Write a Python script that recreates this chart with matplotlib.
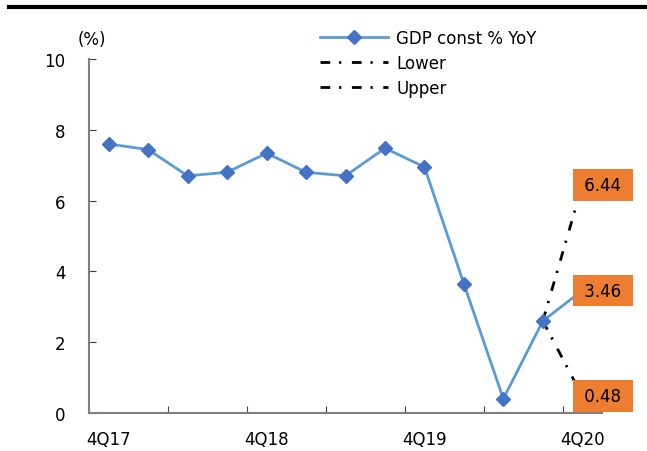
import matplotlib
matplotlib.use("Agg")
import matplotlib.pyplot as plt
from matplotlib.lines import Line2D

plt.rcParams['font.family'] = ['DejaVu Sans']

# Quarterly real GDP growth, 4Q17 .. 4Q20 (last quarter is the forecast midpoint)
quarters = ["4Q17", "1Q18", "2Q18", "3Q18", "4Q18", "1Q19", "2Q19", "3Q19",
            "4Q19", "1Q20", "2Q20", "3Q20", "4Q20"]
gdp_yoy = [7.60, 7.44, 6.70, 6.80, 7.34, 6.80, 6.70, 7.48, 6.95, 3.65, 0.40, 2.60, 3.46]
lower_band = [2.60, 0.48]
upper_band = [2.60, 6.44]
labelled_quarters = ["4Q17", "4Q18", "4Q19", "4Q20"]
y_ticks = [0, 2, 4, 6, 8, 10]

W, H, DPI = 647, 452, 100
FS = 12
fig = plt.figure(figsize=(W / DPI, H / DPI), dpi=DPI)
ax = fig.add_axes([89 / W, 1 - 414 / H, (602 - 89) / W, (414 - 60) / H])

x = list(range(len(quarters)))
line_blue = "#5B9BD5"
mark_blue = "#4472C4"
dashdot = (0, (3.5, 3.2, 0.8, 3.8))
ax.plot(x, gdp_yoy, color=line_blue, lw=2, marker="D", ms=7,
        mfc=mark_blue, mec=mark_blue, zorder=3)

band_x = x[-2:]
ax.plot(band_x, lower_band, color="black", lw=2, ls=dashdot, zorder=2)
ax.plot(band_x, upper_band, color="black", lw=2, ls=dashdot, zorder=2)

# Value boxes at the final quarter
orange = "#ED7D31"
for v in (upper_band[-1], gdp_yoy[-1], lower_band[-1]):
    ax.annotate(f" {v:.2f} ", xy=(x[-1], v), xytext=(15, 0), textcoords="offset points",
                ha="center", va="center", fontsize=FS, color="black", zorder=5,
                annotation_clip=False,
                bbox=dict(boxstyle="square,pad=0.4", fc=orange, ec="none"))

ax.set_xlim(-0.5, len(quarters) - 0.5)
ax.set_ylim(0, 10)
ax.set_yticks(y_ticks)
ax.set_yticklabels([str(t) for t in y_ticks], fontsize=FS)

# Category ticks every two quarters at boundaries, labels every four quarters
ax.set_xticks([i - 0.5 for i in range(0, len(quarters), 2)])
ax.set_xticklabels([])
ax.set_xticks([quarters.index(q) for q in labelled_quarters], minor=True)
ax.set_xticklabels(labelled_quarters, minor=True, fontsize=FS)
ax.tick_params(axis="x", which="minor", length=0, pad=12)
ax.tick_params(axis="x", which="major", direction="in", length=5, width=0.8, color="#404040")
ax.tick_params(axis="y", direction="in", length=5, width=0.8, color="#404040", pad=17)

for side in ("top", "right"):
    ax.spines[side].set_visible(False)
for side in ("left", "bottom"):
    ax.spines[side].set_color("#808080")
    ax.spines[side].set_linewidth(1.5)

fig.text(92 / W, 1 - 40 / H, "(%)", fontsize=FS, va="center", ha="center")

handles = [
    Line2D([], [], color=line_blue, lw=2, marker="D", ms=7, mfc=mark_blue, mec=mark_blue),
    Line2D([], [], color="black", lw=2, ls=dashdot),
    Line2D([], [], color="black", lw=2, ls=dashdot),
]
fig.legend(handles, ["GDP const % YoY", "Lower", "Upper"], loc="upper left",
           bbox_to_anchor=(320 / W, 1 - 30 / H), frameon=False, fontsize=FS,
           handlelength=4.1, handletextpad=0.46, labelspacing=0.42, borderpad=0,
           borderaxespad=0)

# Heavy rule across the top
fig.add_artist(Line2D([9 / W, 1], [1 - 8 / H, 1 - 8 / H], color="black", lw=3,
                      transform=fig.transFigure))

fig.savefig("out.png", dpi=DPI)
